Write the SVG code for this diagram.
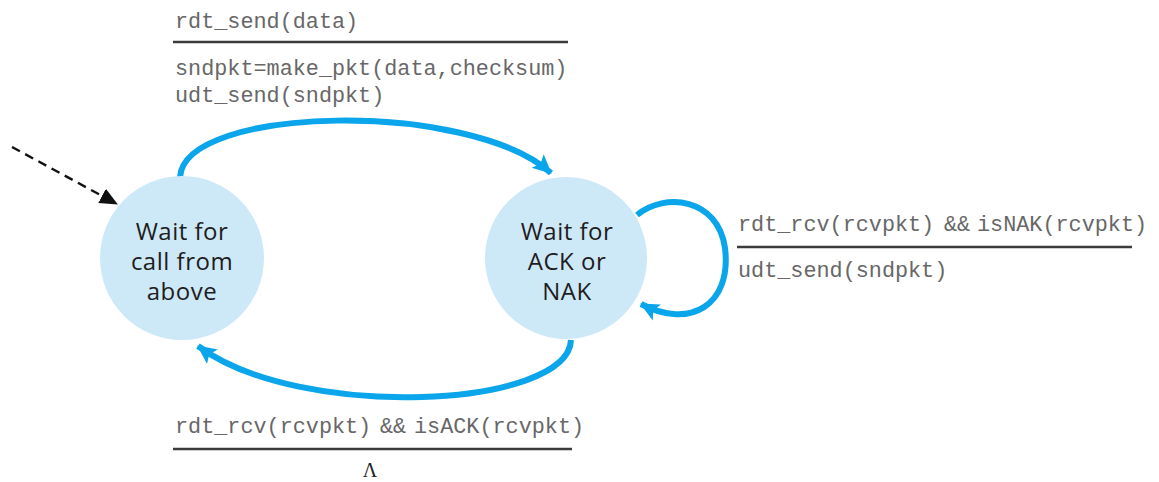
<svg xmlns="http://www.w3.org/2000/svg" width="1159" height="482" viewBox="0 0 1159 482">
<style>
.state{fill:#cde9f8;}
.stxt{font-family:"Open Sans","Noto Sans",sans-serif;font-size:24px;letter-spacing:0.5px;fill:#1f1c1d;text-anchor:middle;}
.code{font-family:"Liberation Mono","DejaVu Sans Mono",monospace;font-size:21.8px;fill:#676767;}
.bar{stroke:#3c3c3c;stroke-width:2.5;fill:none;}
.edge{stroke:#0aa5ea;stroke-width:6;fill:none;}
.init{stroke:#111;stroke-width:2.4;stroke-dasharray:9,6;fill:none;}
</style>
<defs>
<marker id="blueHead" markerUnits="userSpaceOnUse" markerWidth="20" markerHeight="20" viewBox="0 0 20 20" refX="18" refY="10" orient="auto">
<path d="M0,1 L19,10 L0,19 L4,10 z" fill="#0aa5ea"/>
</marker>
<marker id="blackHead" markerUnits="userSpaceOnUse" markerWidth="18" markerHeight="18" viewBox="0 0 18 18" refX="17" refY="9" orient="auto">
<path d="M0,1 L18,9 L0,17 z" fill="#111"/>
</marker>
</defs>

<g id="connectors">
<path id="init" class="init" d="M12,147 L117,204" marker-end="url(#blackHead)"/>
<path id="send" class="edge" d="M180,177 C185,105 470,100 551,173" marker-end="url(#blueHead)"/>
<path id="nakloop" class="edge" d="M637,215 C665,192 718,198 725,248 C732,305 690,330 641,304" marker-end="url(#blueHead)"/>
<path id="ack" class="edge" d="M571,340 C568,408 300,422 198,346" marker-end="url(#blueHead)"/>
</g>

<g id="state-wait-call">
<circle class="state" cx="182" cy="258" r="82"/>
<text class="stxt" x="182" y="240">Wait for</text>
<text class="stxt" x="182" y="270">call from</text>
<text class="stxt" x="182" y="300">above</text>
</g>

<g id="state-wait-ack">
<circle class="state" cx="566" cy="258" r="81"/>
<text class="stxt" x="567" y="240">Wait for</text>
<text class="stxt" x="567" y="270">ACK or</text>
<text class="stxt" x="567" y="300">NAK</text>
</g>

<g id="label-send">
<text class="code" x="175" y="28">rdt_send(data)</text>
<line class="bar" x1="173" y1="42" x2="568" y2="42"/>
<text class="code" x="175" y="75">sndpkt=make_pkt(data,checksum)</text>
<text class="code" x="175" y="102">udt_send(sndpkt)</text>
</g>

<g id="label-nak">
<text class="code" x="738" y="231">rdt_rcv(rcvpkt)<tspan x="944">&amp;&amp;</tspan><tspan x="977">isNAK(rcvpkt)</tspan></text>
<line class="bar" x1="737" y1="247" x2="1132" y2="247"/>
<text class="code" x="738" y="277">udt_send(sndpkt)</text>
</g>

<g id="label-ack">
<text class="code" x="175" y="433">rdt_rcv(rcvpkt)<tspan x="380">&amp;&amp;</tspan><tspan x="414">isACK(rcvpkt)</tspan></text>
<line class="bar" x1="173" y1="449" x2="572" y2="449"/>
<text x="370" y="477" style="font-family:'Liberation Serif','DejaVu Serif',serif;font-size:20px;fill:#222;text-anchor:middle;">Λ</text>
</g>
</svg>
